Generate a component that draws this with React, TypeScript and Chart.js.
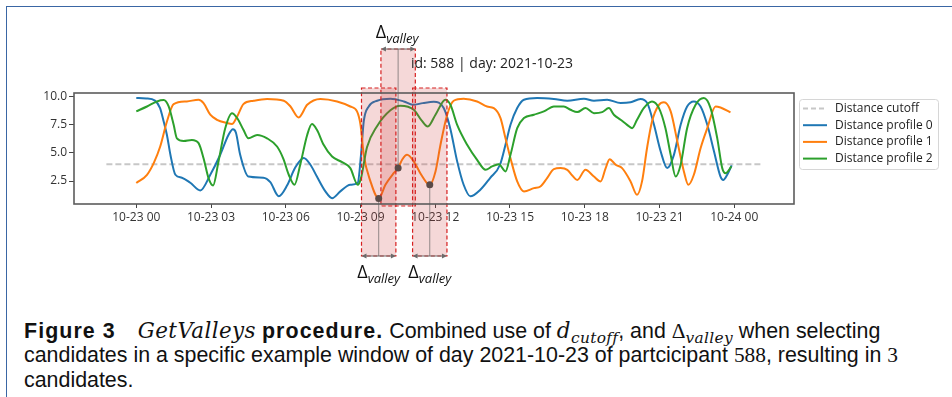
import React, { useEffect, useRef } from "react";
import { Chart, registerables } from "chart.js";
Chart.register(...registerables);

// ---------- data ----------
const xTickHours = [0, 3, 6, 9, 12, 15, 18, 21, 24];
const xTickLabels = ["10-23 00", "10-23 03", "10-23 06", "10-23 09", "10-23 12", "10-23 15", "10-23 18", "10-23 21", "10-24 00"];
const yTicks = [2.5, 5.0, 7.5, 10.0];
const chartTitle = "id: 588 | day: 2021-10-23";
const seriesLabels = ["Distance cutoff", "Distance profile 0", "Distance profile 1", "Distance profile 2"];

const cutoffHours = [-1.2, 25.1];
const cutoffValues = [4.0, 4.0];

const profile0Hours = [0, 0.4, 0.75, 0.95, 1.1, 1.23, 1.37, 1.57, 1.83, 2.17, 2.57, 2.97, 3.37, 3.7, 3.88, 4.0, 4.17, 4.5, 5.1, 5.38, 5.72, 6.05, 6.38, 6.72, 6.99, 7.25, 7.59, 7.86, 8.19, 8.59, 8.89, 9.02, 9.13, 9.33, 9.67, 10.2, 10.74, 11.1, 11.5, 11.94, 12.34, 12.6, 12.88, 13.14, 13.41, 13.81, 14.2, 14.6, 14.82, 15.02, 15.29, 15.56, 16.09, 16.76, 17.3, 17.97, 18.37, 18.9, 19.44, 19.84, 20.24, 20.51, 20.78, 21.05, 21.31, 21.58, 21.85, 22.11, 22.38, 22.65, 22.92, 23.19, 23.45, 23.56, 23.72, 23.9];
const profile0Values = [9.88, 9.85, 9.65, 9.0, 7.8, 6.6, 4.84, 3.06, 2.8, 2.35, 1.67, 3.06, 4.84, 6.6, 7.1, 6.8, 4.84, 2.9, 2.8, 2.4, 1.15, 2.1, 3.7, 4.55, 3.95, 2.9, 1.58, 0.98, 1.58, 2.17, 2.35, 4.83, 7.8, 9.13, 9.64, 9.82, 9.58, 9.28, 9.43, 9.55, 8.99, 7.2, 4.25, 2.17, 1.14, 1.73, 2.77, 3.95, 5.73, 7.5, 8.99, 9.73, 9.88, 9.8, 9.65, 9.82, 9.65, 9.73, 9.43, 9.5, 9.8, 9.43, 7.5, 5.13, 3.65, 4.83, 7.5, 9.13, 9.58, 9.13, 7.5, 5.13, 2.9, 2.6, 3.06, 3.9];

const profile1Hours = [0, 0.43, 0.7, 0.96, 1.23, 1.5, 2.03, 2.5, 2.7, 2.97, 3.24, 3.64, 3.84, 4.05, 4.3, 4.71, 5.25, 5.92, 6.19, 6.52, 6.86, 7.39, 8.06, 8.59, 8.86, 9.0, 9.13, 9.4, 9.73, 10.0, 10.33, 10.51, 10.67, 10.87, 11.14, 11.4, 11.67, 11.78, 12.01, 12.21, 12.48, 12.74, 13.14, 13.68, 14.08, 14.35, 14.62, 14.82, 15.02, 15.29, 15.56, 15.96, 16.22, 16.49, 16.76, 17.03, 17.3, 17.5, 17.7, 18.03, 18.37, 18.64, 18.84, 19.0, 19.24, 19.5, 19.84, 20.1, 20.3, 20.5, 20.7, 20.98, 21.18, 21.45, 21.72, 21.98, 22.16, 22.38, 22.65, 22.92, 23.25, 23.45, 23.85];
const profile1Values = [2.32, 3.06, 4.1, 5.57, 7.8, 9.34, 9.58, 9.73, 9.43, 8.4, 7.95, 7.66, 7.57, 8.25, 9.34, 9.64, 9.8, 9.64, 9.13, 8.16, 9.28, 9.8, 9.58, 9.13, 8.69, 7.5, 4.83, 2.47, 0.95, 2.17, 3.2, 3.66, 4.39, 4.83, 4.24, 3.2, 2.32, 2.17, 3.36, 5.73, 8.4, 9.64, 9.82, 9.58, 9.13, 8.99, 8.1, 6.3, 4.53, 2.47, 1.58, 1.87, 2.02, 2.76, 3.56, 3.65, 3.5, 3.0, 2.6, 3.5, 2.9, 2.47, 3.65, 4.45, 3.95, 3.65, 2.47, 1.28, 2.47, 5.42, 7.8, 9.28, 9.5, 8.69, 6.0, 3.36, 2.17, 3.06, 5.42, 7.2, 9.13, 9.04, 8.6];

const profile2Hours = [0, 0.43, 0.83, 1.1, 1.3, 1.5, 1.63, 1.9, 2.23, 2.5, 2.7, 2.9, 3.08, 3.3, 3.57, 3.84, 4.05, 4.3, 4.5, 4.85, 5.25, 5.65, 5.9, 6.12, 6.35, 6.58, 6.86, 7.05, 7.25, 7.52, 7.86, 8.26, 8.59, 8.89, 9.02, 9.26, 9.67, 10.2, 10.6, 11.14, 11.45, 11.7, 12.01, 12.41, 12.61, 12.88, 13.28, 13.68, 14.02, 14.28, 14.55, 14.82, 15.02, 15.29, 15.56, 15.96, 16.36, 16.76, 17.16, 17.43, 17.7, 18.03, 18.37, 18.7, 18.97, 19.17, 19.44, 19.7, 19.9, 20.1, 20.37, 20.7, 20.98, 21.24, 21.45, 21.65, 21.85, 22.11, 22.45, 22.78, 23.05, 23.32, 23.52, 23.65, 23.89];
const profile2Values = [8.7, 9.13, 9.58, 9.7, 9.13, 7.5, 6.3, 6.07, 6.16, 5.87, 4.53, 2.76, 2.1, 4.24, 7.2, 8.54, 8.1, 7.06, 6.3, 6.6, 6.3, 5.57, 4.5, 3.06, 2.17, 3.95, 6.6, 7.57, 7.06, 5.73, 4.68, 4.18, 3.65, 2.17, 2.76, 5.5, 7.4, 8.8, 9.2, 8.84, 7.9, 7.35, 8.4, 9.73, 9.28, 7.5, 5.73, 4.39, 3.5, 3.8, 4.0, 3.36, 4.83, 7.2, 8.1, 8.4, 8.69, 9.13, 9.13, 8.84, 8.63, 8.99, 8.54, 8.63, 8.99, 8.4, 7.95, 7.5, 7.2, 7.95, 8.99, 9.58, 8.99, 7.2, 4.83, 2.9, 3.95, 7.2, 9.28, 9.88, 8.99, 6.3, 3.65, 3.2, 3.8];

const valleyHours = [9.73, 10.51, 11.78];
const valleyValues = [0.95, 3.66, 2.17];
const valleyDeltaHours = 1.38;
const valleyArrowSides = ["bottom", "top", "bottom"];

const toPoints = (xs: number[], ys: number[]) => xs.map((x, i) => ({ x, y: ys[i] }));

const COLORS = ["#c7c7c7", "#1f77b4", "#ff7f0e", "#2ca02c"];
const FONT = "'Open Sans', 'DejaVu Sans', sans-serif";

function drawArrow(ctx: CanvasRenderingContext2D, x1: number, x2: number, y: number) {
  ctx.save();
  ctx.strokeStyle = "#6b6b6b";
  ctx.fillStyle = "#6b6b6b";
  ctx.lineWidth = 1;
  ctx.beginPath();
  ctx.moveTo(x1 + 2, y);
  ctx.lineTo(x2 - 2, y);
  ctx.stroke();
  const h = 5;
  ctx.beginPath();
  ctx.moveTo(x1, y);
  ctx.lineTo(x1 + h, y - 2.5);
  ctx.lineTo(x1 + h, y + 2.5);
  ctx.closePath();
  ctx.fill();
  ctx.beginPath();
  ctx.moveTo(x2, y);
  ctx.lineTo(x2 - h, y - 2.5);
  ctx.lineTo(x2 - h, y + 2.5);
  ctx.closePath();
  ctx.fill();
  ctx.restore();
}

function drawDeltaLabel(ctx: CanvasRenderingContext2D, cx: number, baseline: number) {
  ctx.save();
  ctx.fillStyle = "#111";
  ctx.textBaseline = "alphabetic";
  ctx.textAlign = "left";
  ctx.font = `18px ${FONT}`;
  const dW = ctx.measureText("Δ").width;
  ctx.font = `italic 13px ${FONT}`;
  const vW = ctx.measureText("valley").width;
  const left = cx - (dW + vW) / 2;
  ctx.font = `18px ${FONT}`;
  ctx.fillText("Δ", left, baseline);
  ctx.font = `italic 13px ${FONT}`;
  ctx.fillText("valley", left + dW, baseline + 5);
  ctx.restore();
}

const decorPlugin = {
  id: "decor",
  afterDatasetsDraw(chart: any) {
    const { ctx, chartArea: ca, scales } = chart;
    const x = scales.x;
    const y = scales.y;
    const rects = valleyHours.map((h, i) => {
      const l = x.getPixelForValue(h - valleyDeltaHours / 2);
      const r = x.getPixelForValue(h + valleyDeltaHours / 2);
      const top = valleyArrowSides[i] === "top" ? ca.top - 44 : ca.top - 5;
      const bottom = valleyArrowSides[i] === "top" ? ca.bottom + 2 : ca.bottom + 52;
      return { l, r, top, bottom, cx: x.getPixelForValue(h), py: y.getPixelForValue(valleyValues[i]) };
    });
    ctx.save();
    rects.forEach((rc) => {
      ctx.fillStyle = "rgba(205, 60, 60, 0.2)";
      ctx.fillRect(rc.l, rc.top, rc.r - rc.l, rc.bottom - rc.top);
    });
    rects.forEach((rc, i) => {
      ctx.strokeStyle = "rgba(90,90,90,0.8)";
      ctx.lineWidth = 0.8;
      ctx.beginPath();
      if (valleyArrowSides[i] === "top") {
        ctx.moveTo(rc.cx, rc.top);
        ctx.lineTo(rc.cx, rc.py);
      } else {
        ctx.moveTo(rc.cx, rc.py);
        ctx.lineTo(rc.cx, rc.bottom);
      }
      ctx.stroke();
    });
    rects.forEach((rc) => {
      ctx.strokeStyle = "#d62020";
      ctx.lineWidth = 1.2;
      ctx.setLineDash([4, 2.5]);
      ctx.strokeRect(rc.l, rc.top, rc.r - rc.l, rc.bottom - rc.top);
      ctx.setLineDash([]);
    });
    rects.forEach((rc) => {
      ctx.fillStyle = "#5a4a47";
      ctx.beginPath();
      ctx.arc(rc.cx, rc.py, 3.5, 0, Math.PI * 2);
      ctx.fill();
    });
    rects.forEach((rc, i) => {
      if (valleyArrowSides[i] === "top") {
        drawArrow(ctx, rc.l, rc.r, rc.top);
        drawDeltaLabel(ctx, rc.cx - 1, rc.top - 11);
      } else {
        drawArrow(ctx, rc.l, rc.r, rc.bottom);
        drawDeltaLabel(ctx, rc.cx, rc.bottom + 22);
      }
    });
    ctx.restore();
  },
  afterDraw(chart: any) {
    const { ctx, chartArea: ca } = chart;
    ctx.save();
    ctx.strokeStyle = "#5c5c5c";
    ctx.lineWidth = 1.6;
    ctx.strokeRect(ca.left, ca.top, ca.right - ca.left, ca.bottom - ca.top);
    ctx.fillStyle = "#222";
    ctx.font = `14px ${FONT}`;
    ctx.textAlign = "center";
    ctx.textBaseline = "middle";
    ctx.fillText(chartTitle, (ca.left + ca.right) / 2 + 58, ca.top - 29);
    const lx = ca.right + 5;
    const ly = ca.top + 6;
    const lw = 139;
    const lh = 70;
    ctx.fillStyle = "rgba(255,255,255,0.9)";
    ctx.strokeStyle = "#d6d6d6";
    ctx.lineWidth = 1;
    ctx.beginPath();
    (ctx as any).roundRect(lx + 0.5, ly + 0.5, lw, lh, 3);
    ctx.fill();
    ctx.stroke();
    ctx.font = `12px ${FONT}`;
    ctx.textAlign = "left";
    ctx.textBaseline = "middle";
    seriesLabels.forEach((lab, i) => {
      const yy = ly + 9.5 + i * 16.7;
      ctx.strokeStyle = COLORS[i];
      ctx.lineWidth = 2;
      ctx.setLineDash(i === 0 ? [5, 3] : []);
      ctx.beginPath();
      ctx.moveTo(lx + 4, yy);
      ctx.lineTo(lx + 28, yy);
      ctx.stroke();
      ctx.setLineDash([]);
      ctx.fillStyle = "#222";
      ctx.fillText(lab, lx + 36, yy);
    });
    ctx.restore();
  },
};

function ChartView() {
  const ref = useRef<HTMLCanvasElement | null>(null);
  useEffect(() => {
    if (!ref.current) return;
    const ds = (label: string, xs: number[], ys: number[], color: string, order: number, dash?: number[]) => ({
      label,
      data: toPoints(xs, ys),
      borderColor: color,
      backgroundColor: color,
      borderWidth: 2,
      borderDash: dash || [],
      pointRadius: 0,
      cubicInterpolationMode: "monotone",
      fill: false,
      order,
    });
    const chart = new Chart(ref.current, {
      type: "line",
      data: {
        datasets: [
          ds(seriesLabels[0], cutoffHours, cutoffValues, COLORS[0], 4, [6, 3]),
          ds(seriesLabels[1], profile0Hours, profile0Values, COLORS[1], 3),
          ds(seriesLabels[2], profile1Hours, profile1Values, COLORS[2], 2),
          ds(seriesLabels[3], profile2Hours, profile2Values, COLORS[3], 1),
        ] as any,
      },
      options: {
        animation: false,
        responsive: false,
        maintainAspectRatio: false,
        parsing: false as any,
        layout: { padding: { left: 0, right: 158, top: 93, bottom: 66 } },
        plugins: { legend: { display: false }, tooltip: { enabled: false }, title: { display: false } },
        scales: {
          x: {
            type: "linear",
            min: -2.5,
            max: 26.4,
            afterBuildTicks: (axis: any) => {
              axis.ticks = xTickHours.map((v) => ({ value: v }));
            },
            afterFit: (axis: any) => {
              axis.height = 30;
            },
            grid: { display: true, drawOnChartArea: false, drawTicks: true, tickLength: 4, color: "#444", lineWidth: 1 },
            border: { display: false },
            ticks: {
              autoSkip: false,
              maxRotation: 0,
              padding: 2,
              color: "#333",
              font: { family: FONT, size: 12 },
              callback: (v: any) => {
                const idx = xTickHours.indexOf(Number(v));
                return idx >= 0 ? xTickLabels[idx] : "";
              },
            },
          },
          y: {
            type: "linear",
            min: 0.46,
            max: 10.33,
            afterBuildTicks: (axis: any) => {
              axis.ticks = yTicks.map((v) => ({ value: v }));
            },
            afterFit: (axis: any) => {
              axis.width = 74;
            },
            grid: { display: true, drawOnChartArea: false, drawTicks: true, tickLength: 5, color: "#444", lineWidth: 1 },
            border: { display: false },
            ticks: {
              padding: 2,
              color: "#333",
              font: { family: FONT, size: 12 },
              callback: (v: any) => Number(v).toFixed(1),
            },
          },
        },
      },
      plugins: [decorPlugin as any],
    });
    return () => chart.destroy();
  }, []);
  return <canvas ref={ref} width={952} height={300} style={{ display: "block", position: "absolute", left: 0, top: 0, width: 952, height: 300 }} />;
}

const capSans: React.CSSProperties = { fontFamily: "'Liberation Sans', Arial, sans-serif" };
const bold: React.CSSProperties = { fontWeight: 700, letterSpacing: "0.05em" };
const mathIt: React.CSSProperties = { fontFamily: "'DejaVu Serif', 'Liberation Serif', serif", fontStyle: "italic", letterSpacing: "0.02em" };
const mathRm: React.CSSProperties = { fontFamily: "'Liberation Serif', 'DejaVu Serif', serif" };
const sub: React.CSSProperties = { fontSize: "0.72em", position: "relative", top: "0.3em", ...mathIt };

export default function App() {
  const line: React.CSSProperties = { height: 25, lineHeight: "25px", whiteSpace: "nowrap" };
  return (
    <div style={{ position: "absolute", left: 0, top: 0, width: 952, height: 397, background: "#fff", overflow: "hidden" }}>
      <div style={{ position: "absolute", left: 6, top: 6, width: 946, height: 391, borderTop: "1.5px solid #3a66a4", borderLeft: "1.5px solid #3a66a4", boxSizing: "border-box" }} />
      <ChartView />
      <div style={{ position: "absolute", left: 24, top: 318, fontSize: 21.4, color: "#111", ...capSans }}>
        <div style={line}>
          <span style={bold}>Figure 3</span>
          <span style={{ marginLeft: 22, ...mathIt }}>GetValleys</span> <span style={bold}>procedure.</span> Combined use of{" "}
          <span style={mathIt}>d</span>
          <span style={sub}>cutoff</span>, and <span style={mathRm}>Δ</span>
          <span style={sub}>valley</span> when selecting
        </div>
        <div style={line}>
          candidates in a specific example window of day 2021-10-23 of partcicipant <span style={mathRm}>588</span>, resulting in{" "}
          <span style={mathRm}>3</span>
        </div>
        <div style={line}>candidates.</div>
      </div>
    </div>
  );
}
